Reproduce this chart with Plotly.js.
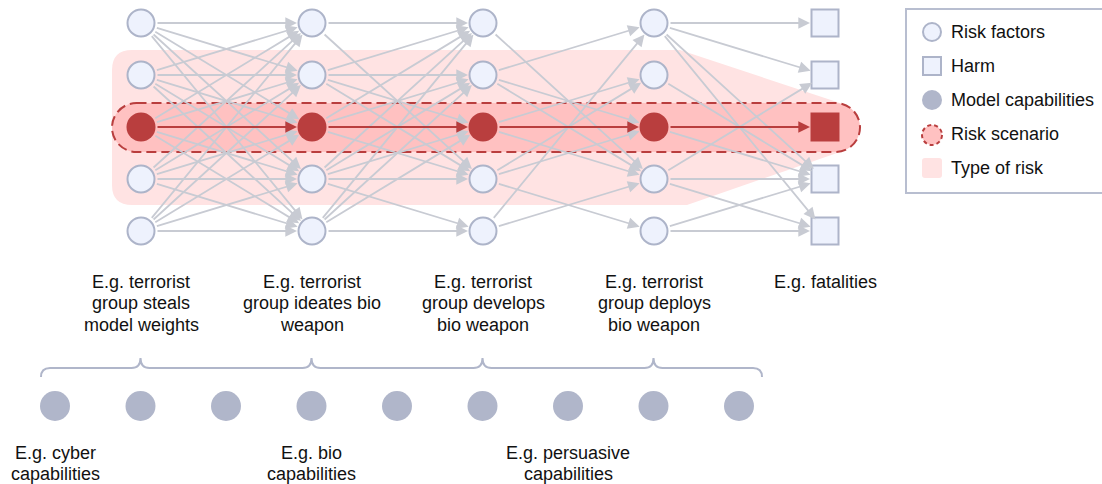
<!DOCTYPE html>
<html>
<head>
<meta charset="utf-8">
<script src="https://cdn.plot.ly/plotly-3.0.1.min.js"></script>
<style>html,body{margin:0;padding:0;background:#fff;}#chart{width:1102px;height:484px;}</style>
</head>
<body>
<div id="chart"></div>
<script>
// ---------- data ----------
const stageLabels = [
  ["E.g. terrorist", "group steals", "model weights"],
  ["E.g. terrorist", "group ideates bio", "weapon"],
  ["E.g. terrorist", "group develops", "bio weapon"],
  ["E.g. terrorist", "group deploys", "bio weapon"],
  ["E.g. fatalities"]
];
const rowsPerStage = 5;
const scenarioRow = 2;
// edges between consecutive stages: [fromRow, toRow]
const edges01 = [[0,0],[0,1],[0,2],[0,3],[0,4],[1,0],[1,1],[1,2],[1,3],[1,4],[2,0],[2,1],[2,3],[2,4],[3,0],[3,1],[3,2],[3,3],[3,4],[4,0],[4,1],[4,2],[4,3],[4,4]];
const edges12 = [[0,0],[0,3],[1,0],[1,1],[1,2],[1,3],[2,0],[2,1],[2,3],[3,0],[3,1],[3,2],[3,3],[3,4],[4,0],[4,1],[4,2],[4,4]];
const edges23 = [[0,3],[1,0],[1,2],[1,3],[2,1],[2,3],[3,1],[3,2],[3,4],[4,0],[4,3]];
const edges34 = [[0,0],[0,1],[0,3],[0,4],[1,3],[2,3],[3,1],[3,3],[3,4],[4,3],[4,4]];
const stageEdges = [edges01, edges12, edges23, edges34];
const capabilityCount = 9;
const capabilityLabels = [["E.g. cyber", "capabilities"], ["E.g. bio", "capabilities"], ["E.g. persuasive", "capabilities"]];
const capabilityLabelAt = [0, 3, 6];
const bracketPeaks = [1, 3, 5, 7];
const legendLabels = ["Risk factors", "Harm", "Model capabilities", "Risk scenario", "Type of risk"];

// ---------- geometry helpers (pixel -> data) ----------
const X = px => (px - 141) / 171;
const Y = py => (py - 23) / 52;
const colPx = i => 141 + 171 * i;
const capPx = k => 55 + 85.5 * k;
const P = (px, py) => X(px) + ',' + Y(py);

// ---------- colours ----------
const nodeFill = '#eef2fd', nodeLine = '#adb4c9';
const red = '#b93e3e';
const edgeCol = '#c8cbd3';
const capCol = '#b0b6ca';
const font = {family: 'Liberation Sans, Arial, sans-serif', size: 18, color: '#111'};

const traces = [];
// risk factor nodes
const fx = [], fy = [], rx = [], ry = [];
for (let i = 0; i < stageLabels.length - 1; i++) {
  for (let j = 0; j < rowsPerStage; j++) {
    if (j === scenarioRow) { rx.push(i); ry.push(j); } else { fx.push(i); fy.push(j); }
  }
}
traces.push({x: fx, y: fy, mode: 'markers', type: 'scatter', hoverinfo: 'skip',
  marker: {symbol: 'circle', size: 27, color: nodeFill, line: {color: nodeLine, width: 2}}});
traces.push({x: rx, y: ry, mode: 'markers', type: 'scatter', hoverinfo: 'skip',
  marker: {symbol: 'circle', size: 29, color: red, line: {width: 0}}});
// harm nodes
const last = stageLabels.length - 1;
const hx = [], hy = [];
for (let j = 0; j < rowsPerStage; j++) if (j !== scenarioRow) { hx.push(last); hy.push(j); }
traces.push({x: hx, y: hy, mode: 'markers', type: 'scatter', hoverinfo: 'skip',
  marker: {symbol: 'square', size: 27, color: nodeFill, line: {color: nodeLine, width: 2}}});
traces.push({x: [last], y: [scenarioRow], mode: 'markers', type: 'scatter', hoverinfo: 'skip',
  marker: {symbol: 'square', size: 29, color: red, line: {width: 0}}});
// capability nodes
const cx = [], cy = [];
for (let k = 0; k < capabilityCount; k++) { cx.push(X(capPx(k))); cy.push(Y(406)); }
traces.push({x: cx, y: cy, mode: 'markers', type: 'scatter', hoverinfo: 'skip',
  marker: {symbol: 'circle', size: 30, color: capCol, line: {width: 0}}});
// legend markers
traces.push({x: [X(932), X(932)], y: [Y(32), Y(66)], mode: 'markers', type: 'scatter', hoverinfo: 'skip',
  marker: {symbol: ['circle', 'square'], size: 18, color: nodeFill, line: {color: nodeLine, width: 2}}});
traces.push({x: [X(932)], y: [Y(100)], mode: 'markers', type: 'scatter', hoverinfo: 'skip',
  marker: {symbol: 'circle', size: 20, color: capCol, line: {width: 0}}});

// ---------- shapes ----------
const shapes = [];
const polyPath = 'M' + P(132, 50) + ' L' + P(680, 50) + ' L' + P(840, 103) + ' L' + P(840, 152) +
  ' L' + P(687, 205) + ' L' + P(132, 205) + ' Q' + P(112, 205) + ' ' + P(112, 185) +
  ' L' + P(112, 70) + ' Q' + P(112, 50) + ' ' + P(132, 50) + ' Z';
shapes.push({type: 'path', xref: 'x', yref: 'y', path: polyPath, fillcolor: '#ffe3e3', line: {width: 0}, layer: 'below'});
function capsule(x0, x1, y0, y1) {
  const r = (y1 - y0) / 2, ym = (y0 + y1) / 2, k = 0.5523 * r;
  return 'M' + P(x0 + r, y0) + ' L' + P(x1 - r, y0) +
    ' C' + P(x1 - r + k, y0) + ' ' + P(x1, ym - k) + ' ' + P(x1, ym) +
    ' C' + P(x1, ym + k) + ' ' + P(x1 - r + k, y1) + ' ' + P(x1 - r, y1) +
    ' L' + P(x0 + r, y1) +
    ' C' + P(x0 + r - k, y1) + ' ' + P(x0, ym + k) + ' ' + P(x0, ym) +
    ' C' + P(x0, ym - k) + ' ' + P(x0 + r - k, y0) + ' ' + P(x0 + r, y0) + ' Z';
}
shapes.push({type: 'path', xref: 'x', yref: 'y', path: capsule(112, 860, 103, 152),
  fillcolor: '#ffc1c1', line: {color: red, width: 2, dash: '10px,5px'}, layer: 'below'});
let bp = 'M' + P(41, 377) + ' Q' + P(41, 368) + ' ' + P(50, 368);
bracketPeaks.forEach(k => {
  const px = capPx(k);
  bp += ' L' + P(px - 9, 368) + ' Q' + P(px, 368) + ' ' + P(px, 358) + ' Q' + P(px, 368) + ' ' + P(px + 9, 368);
});
bp += ' L' + P(753, 368) + ' Q' + P(762, 368) + ' ' + P(762, 377);
shapes.push({type: 'path', xref: 'x', yref: 'y', path: bp, line: {color: capCol, width: 2}, layer: 'below'});
shapes.push({type: 'rect', xref: 'paper', yref: 'paper', x0: 906 / 1102, x1: 1.02, y0: 1 - 193 / 484, y1: 1 - 9 / 484,
  line: {color: '#b8bed0', width: 2}, fillcolor: 'rgba(0,0,0,0)', layer: 'below'});
shapes.push({type: 'circle', xref: 'x', yref: 'y', x0: X(922), x1: X(942), y0: Y(125), y1: Y(145),
  fillcolor: '#ffc1c1', line: {color: red, width: 2, dash: '4px,3px'}});
const rs = 'M' + P(925, 158) + ' L' + P(939, 158) + ' Q' + P(942, 158) + ' ' + P(942, 161) + ' L' + P(942, 175) +
  ' Q' + P(942, 178) + ' ' + P(939, 178) + ' L' + P(925, 178) + ' Q' + P(922, 178) + ' ' + P(922, 175) +
  ' L' + P(922, 161) + ' Q' + P(922, 158) + ' ' + P(925, 158) + ' Z';
shapes.push({type: 'path', xref: 'x', yref: 'y', path: rs, fillcolor: '#ffe3e3', line: {width: 0}});

// ---------- annotations ----------
const annotations = [];
function arrow(i, a, b, color) {
  annotations.push({x: i + 1, y: b, ax: i, ay: a, xref: 'x', yref: 'y', axref: 'x', ayref: 'y',
    text: '', showarrow: true, arrowhead: 2, arrowsize: 1.3, arrowwidth: 1.8, arrowcolor: color,
    standoff: 15, startstandoff: 15});
}
stageEdges.forEach((list, i) => list.forEach(e => {
  if (!(e[0] === scenarioRow && e[1] === scenarioRow)) arrow(i, e[0], e[1], edgeCol);
}));
for (let i = 0; i < stageLabels.length - 1; i++) arrow(i, scenarioRow, scenarioRow, red);

function textLine(t, px, py, anchor) {
  annotations.push({x: X(px), y: Y(py), xref: 'x', yref: 'y', text: t, showarrow: false,
    xanchor: anchor || 'center', yanchor: 'middle', font: font});
}
stageLabels.forEach((lines, i) => lines.forEach((t, l) => textLine(t, colPx(i), 282 + 21.3 * l)));
capabilityLabels.forEach((lines, n) => lines.forEach((t, l) => textLine(t, capPx(capabilityLabelAt[n]), 453 + 21 * l)));
const legendY = [32, 66, 100, 134, 168];
legendLabels.forEach((t, n) => textLine(t, 949, legendY[n], 'left'));

const layout = {
  width: 1102, height: 484, margin: {l: 0, r: 0, t: 0, b: 0},
  paper_bgcolor: '#fff', plot_bgcolor: '#fff', showlegend: false,
  xaxis: {range: [X(0), X(1102)], visible: false, fixedrange: true},
  yaxis: {range: [Y(484), Y(0)], visible: false, fixedrange: true},
  shapes: shapes, annotations: annotations
};
Plotly.newPlot('chart', traces, layout, {staticPlot: true, displayModeBar: false});
</script>
</body>
</html>
